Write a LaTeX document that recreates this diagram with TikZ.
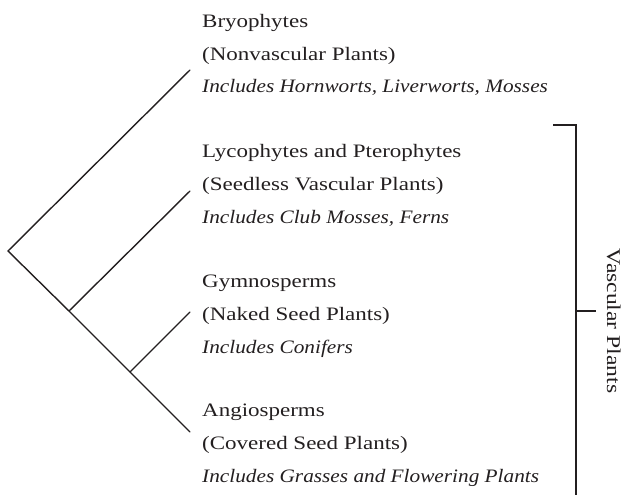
\documentclass[tikz,border=0pt]{standalone}
\usepackage{fontspec}
\setmainfont{Liberation Serif}[FakeStretch=1.21,ItalicFeatures={FakeStretch=1.12}]
\definecolor{ink}{HTML}{231F20}
\begin{document}
\begin{tikzpicture}[x=1pt,y=-1pt,
  branch/.style={draw=ink,line width=1.4pt,line cap=round},
  taxon/.style={anchor=base west,align=left,inner sep=0pt,text=ink,
    font=\fontsize{19}{32.7}\selectfont},
  side/.style={anchor=base,inner sep=0pt,text=ink,rotate=-90,
    font=\fontsize{19.5}{24}\selectfont}]
\useasboundingbox (0,0) rectangle (625,495);
% tree nodes
\coordinate (root) at (8,251);
\coordinate (n1) at (69,311);
\coordinate (n2) at (130,372);
\coordinate (bryo) at (190,70);
\coordinate (lyco) at (190,191);
\coordinate (gymno) at (190,312);
\coordinate (angio) at (190,432);
\draw[branch] (bryo) -- (root) -- (n1) -- (n2) -- (angio);
\draw[branch] (n1) -- (lyco);
\draw[branch] (n2) -- (gymno);
% labels (anchored at the baseline of their last line)
\node[taxon] (tb) at (202,93) {Bryophytes\\(Nonvascular Plants)\\\textit{Includes Hornworts, Liverworts, Mosses}};
\node[taxon] (tl) at (202,223) {Lycophytes and Pterophytes\\(Seedless Vascular Plants)\\\textit{Includes Club Mosses, Ferns}};
\node[taxon] (tg) at (202,353) {Gymnosperms\\(Naked Seed Plants)\\\textit{Includes Conifers}};
\node[taxon] (ta) at (202,482) {Angiosperms\\(Covered Seed Plants)\\\textit{Includes Grasses and Flowering Plants}};
% bracket
\coordinate (bt) at (553,125);
\coordinate (bc) at (576,125);
\coordinate (bb) at (576,495);
\coordinate (bm) at (576,311);
\coordinate (bmr) at (596,311);
\draw[branch,line cap=butt] (bt) -- (bc) -- (bb);
\draw[branch,line cap=butt] (bm) -- (bmr);
\node[side] (vp) at (607,321) {Vascular Plants};
\end{tikzpicture}
\end{document}
